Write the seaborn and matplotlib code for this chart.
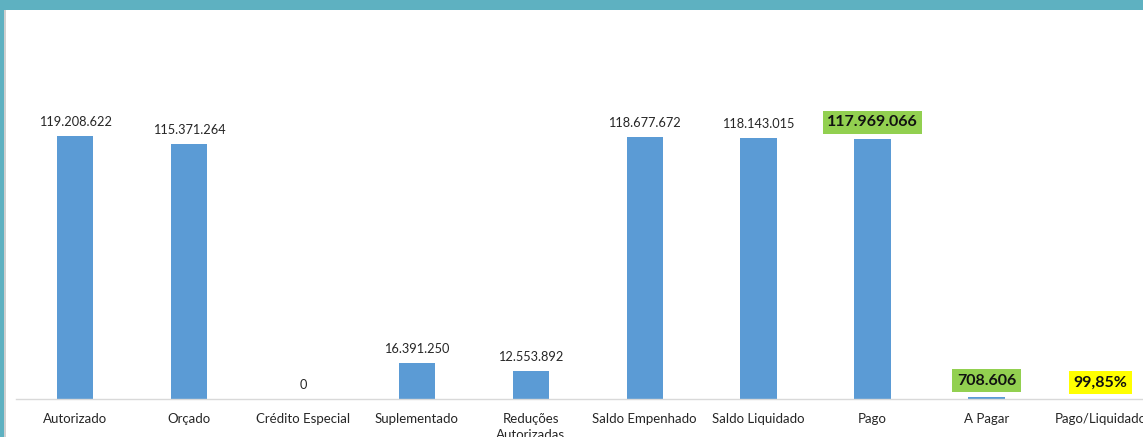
import matplotlib
matplotlib.use("Agg")
import matplotlib.pyplot as plt
from matplotlib.patches import Rectangle
import seaborn as sns
import pandas as pd

categories = ["Autorizado", "Orçado", "Crédito Especial", "Suplementado",
              "Reduções\nAutorizadas", "Saldo Empenhado", "Saldo Liquidado",
              "Pago", "A Pagar", "Pago/Liquidado"]
values = [119208622, 115371264, 0, 16391250, 12553892,
          118677672, 118143015, 117969066, 708606, 99.85]
labels = ["119.208.622", "115.371.264", "0", "16.391.250", "12.553.892",
          "118.677.672", "118.143.015", "117.969.066", "708.606", "99,85%"]
highlight = [None, None, None, None, None, None, None, "#92D050", "#92D050", "#FFFF00"]

sns.set_style("white")
plt.rcParams["font.family"] = ["Lato", "DejaVu Sans"]

W, H = 1143, 437
fig = plt.figure(figsize=(W / 100, H / 100), dpi=100)
fig.patch.set_facecolor("white")

# axes placed in pixel coordinates (right side extends past the figure edge, as in the reference)
left_px, base_px, top_px = 16, 399, 20
unit_px = 113.9
x0, x1 = -0.52, 9.5
ax_w = (x1 - x0) * unit_px
ax = fig.add_axes([left_px / W, (H - base_px) / H, ax_w / W, (base_px - top_px) / H])

df = pd.DataFrame({"cat": categories, "val": values})
sns.barplot(data=df, x="cat", y="val", color="#5B9BD5", saturation=1,
            width=0.32, ax=ax, edgecolor="none")

px_per_val = 263 / 119208622
ax.set_xlim(x0, x1)
ax.set_ylim(0, (base_px - top_px) / px_per_val)

for s in ["top", "right", "left"]:
    ax.spines[s].set_visible(False)
ax.spines["bottom"].set_color("#D9D9D9")
ax.spines["bottom"].set_linewidth(1.0)
ax.set_yticks([])
ax.set_xlabel("")
ax.set_ylabel("")
ax.tick_params(axis="x", length=0, pad=10, labelsize=9.5, colors="#262626")
for t in ax.get_xticklabels():
    t.set_verticalalignment("top")
    t.set_linespacing(1.4)

for i, (v, lab, hl) in enumerate(zip(values, labels, highlight)):
    if hl is None:
        ax.annotate(lab, (i, v), xytext=(0, 7.2), textcoords="offset points",
                    ha="center", va="baseline", fontsize=9.2, color="#262626")
    else:
        ax.annotate(lab, (i, v), xytext=(0, 12.0), textcoords="offset points",
                    ha="center", va="center", fontsize=11.5, fontweight="bold",
                    color="#111111",
                    bbox=dict(boxstyle="square,pad=0.28", facecolor=hl, edgecolor="none"))

# teal frame
teal = "#5EB1C1"
fig.patches.append(Rectangle((0, (H - 10) / H), 1, 10 / H, transform=fig.transFigure,
                             facecolor=teal, edgecolor="none", zorder=10))
fig.patches.append(Rectangle((0, 0), 4 / W, 1, transform=fig.transFigure,
                             facecolor=teal, edgecolor="none", zorder=10))
fig.patches.append(Rectangle((4 / W, 0), 1.5 / W, (H - 10) / H, transform=fig.transFigure,
                             facecolor="#D0D0D0", edgecolor="none", zorder=10))

fig.savefig("out.png", dpi=100)
